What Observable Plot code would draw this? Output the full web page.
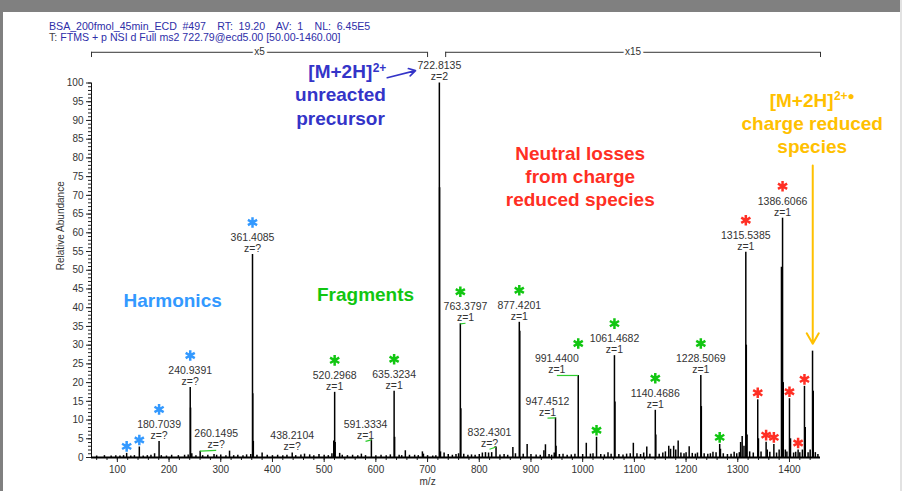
<!DOCTYPE html>
<html>
<head>
<meta charset="utf-8">
<script src="https://cdn.jsdelivr.net/npm/d3@7"></script>
<script src="https://cdn.jsdelivr.net/npm/@observablehq/plot@0.6"></script>
<style>
  body { margin: 0; background: #fff; }
  #wrap { position: relative; width: 902px; height: 491px; overflow: hidden; background: #fff;
          font-family: "Liberation Sans", Arial, sans-serif; }
  #chart { position: absolute; left: 0; top: 0; }
  .frameTop { position: absolute; left: 0; top: 0; width: 902px; height: 12px; background: #808080; }
  .frameLeft { position: absolute; left: 0; top: 0; width: 3px; height: 491px; background: #808080; }
  .frameRight { position: absolute; right: 0; top: 0; width: 2px; height: 491px; background: #e2e2e2; }
  .title { position: absolute; left: 49px; font-size: 10.6px; line-height: 11px; color: #2e2ea8; white-space: pre; }
  .title .t { color: #444; }
</style>
</head>
<body>
<div id="wrap">
  <div id="chart"></div>
  <div class="frameTop"></div>
  <div class="frameLeft"></div>
  <div class="frameRight"></div>
  <div class="title" style="top:21px;word-spacing:2.7px">BSA_200fmol_45min_ECD #497  RT: 19.20  AV: 1  NL: 6.45E5</div>
  <div class="title" style="top:32px"><span class="t">T:</span> FTMS + p NSI d Full ms2 722.79@ecd5.00 [50.00-1460.00]</div>
</div>
<script>
// ---- spectrum peaks (m/z, relative abundance) ----
const peakMz = [
  60, 75, 88, 97, 105, 112, 118, 126, 133, 142.5, 150, 158, 165, 172, 180.7039, 185, 195, 205, 218, 230, 237,
  240.9391, 241.6, 244, 252, 260.1495, 265, 275, 287, 292, 300, 310, 317, 325, 333, 343, 350, 358,
  361.4085, 361.9, 363, 370, 380, 390, 400, 410, 420, 428, 438.2104, 445, 455, 462, 472, 480, 490, 500, 508,
  515, 518.5, 520.2968, 521.3, 530, 535, 545, 555, 565, 572, 580, 591.3334, 600, 610, 620, 628,
  635.3234, 636.3, 645, 650, 657, 665, 675, 682, 690, 692, 700, 710, 716, 722.8135, 723.3, 725,
  732, 740, 748, 755, 760, 763.3797, 764.4, 770, 778, 785, 792, 800, 806, 812, 818, 824, 832.4301, 840, 848,
  855, 865, 870, 877.4201, 878.4, 885, 892.6, 900, 910, 918, 925, 928, 935, 940, 945, 947.4512, 948.5, 955,
  962, 970, 978, 985, 991.44, 1000, 1007, 1015, 1020, 1026.8, 1035, 1042, 1049, 1055, 1061.4682, 1062.5,
  1070, 1078, 1085, 1092, 1098, 1105, 1112, 1118, 1124, 1130, 1140.4686, 1141.5, 1148, 1155, 1160, 1166.5,
  1170, 1176, 1180, 1184.7, 1190, 1196, 1200, 1206, 1212, 1218, 1222, 1228.5069, 1229.5, 1235, 1242, 1247,
  1252, 1258, 1265, 1266.5, 1272, 1280, 1287, 1293, 1298, 1303, 1305.5, 1308.5, 1312, 1315.5385, 1316.5,
  1318, 1323, 1330, 1338.6, 1340, 1345, 1354.8, 1357, 1362, 1369.8, 1375, 1380, 1384.5, 1386.6066, 1388,
  1392, 1395, 1400, 1402, 1408, 1412, 1416.7, 1420, 1425, 1429, 1430.5, 1436, 1440, 1444.6, 1446, 1450, 1455
];
const peakAbundance = [
  0.4, 0.5, 0.4, 0.5, 0.4, 0.5, 1.1, 0.4, 0.5, 2.8, 0.4, 0.5, 0.6, 1.0, 4.3, 0.5, 0.4, 0.6, 0.5, 0.6, 0.7,
  18.7, 13.2, 1.0, 0.5, 1.7, 0.5, 0.6, 0.8, 0.6, 0.7, 0.5, 1.7, 0.5, 0.6, 0.5, 0.7, 0.8,
  54.2, 17.0, 4.3, 0.6, 1.2, 0.6, 0.5, 0.6, 0.5, 0.6, 1.2, 0.5, 0.7, 0.9, 0.7, 0.5, 0.8, 0.6, 0.5,
  1.0, 4.4, 17.4, 4.0, 1.1, 0.6, 0.5, 0.6, 0.5, 0.9, 0.5, 4.7, 0.5, 0.6, 0.5, 0.7,
  17.7, 5.4, 0.6, 0.5, 1.8, 0.6, 0.6, 0.5, 1.5, 0.9, 0.5, 0.4, 0.5, 100, 72, 1.5,
  1.2, 0.8, 0.6, 0.8, 1.0, 35.7, 13.0, 0.9, 0.6, 0.7, 0.6, 0.8, 1.2, 1.3, 1.2, 1.3, 2.8, 0.7, 0.8,
  0.6, 2.7, 1.0, 36.1, 33.7, 0.9, 3.5, 0.8, 0.7, 0.6, 1.8, 3.4, 0.8, 0.6, 1.2, 10.6, 3.0, 0.8,
  0.9, 0.6, 0.7, 0.9, 21.9, 0.8, 3.8, 0.9, 1.0, 5.4, 0.8, 0.7, 1.3, 0.9, 27.2, 14.8,
  0.8, 0.7, 0.9, 1.0, 3.8, 1.0, 0.8, 1.2, 2.8, 0.9, 12.6, 6.0, 0.9, 1.2, 1.5, 3.0,
  2.2, 3.0, 2.0, 4.4, 1.2, 1.0, 1.3, 2.9, 1.1, 0.9, 1.2, 21.9, 13.6, 1.0, 0.9, 1.0,
  1.4, 1.3, 3.5, 2.2, 1.0, 0.8, 0.9, 1.4, 1.0, 1.3, 4.0, 5.6, 3.0, 54.8, 30.0,
  6.0, 1.5, 1.2, 15.4, 5.0, 1.5, 4.1, 2.0, 1.4, 3.5, 1.2, 2.0, 50.8, 63.9, 20.0,
  2.0, 1.5, 15.7, 5.0, 1.2, 1.4, 2.0, 1.3, 2.0, 19.0, 8.0, 1.3, 2.0, 28.4, 17.7, 1.3, 0.8
];

// ---- labelled peaks ----
const labelMz        = [180.7039, 240.9391, 260.1495, 361.4085, 438.2104, 520.2968, 591.3334, 635.3234, 722.8135,
                        763.3797, 832.4301, 877.4201, 947.4512, 991.44, 1061.4682, 1140.4686, 1228.5069, 1315.5385, 1386.6066];
const labelAbundance = [4.3, 18.7, 1.7, 54.2, 1.2, 17.4, 4.7, 17.7, 100,
                        35.7, 2.8, 36.1, 10.6, 21.9, 27.2, 12.6, 21.9, 54.8, 63.9];
const labelCharge    = ["z=?", "z=?", "z=?", "z=?", "z=?", "z=1", "z=1", "z=1", "z=2",
                        "z=1", "z=?", "z=1", "z=1", "z=1", "z=1", "z=1", "z=1", "z=1", "z=1"];
// where a label was moved aside and joined to its peak by a leader (m/z, abundance)
const labelAtMz        = [null, null, 291.2, null, null, null, 580, null, null,
                          773.4, 819.8, null, 932, 950, null, null, null, null, null];
const labelAtAbundance = [null, null, 1.9, null, null, null, 4.3, null, null,
                          35.85, 2.2, null, 10.5, 21.9, null, null, null, null, null];

// ---- asterisk-marked peaks ----
const starMz        = [118, 142.5, 180.7039, 240.9391, 361.4085,
                       520.2968, 635.3234, 763.3797, 877.4201, 991.44, 1026.8, 1061.4682, 1140.4686, 1228.5069, 1265,
                       1315.5385, 1386.6066, 1338.6, 1354.8, 1369.8, 1400, 1416.7, 1429];
const starAbundance = [1.1, 2.8, 4.3, 18.7, 54.2,
                       17.4, 17.7, 35.7, 36.1, 21.9, 5.4, 27.2, 12.6, 21.9, 3.5,
                       54.8, 63.9, 15.4, 4.1, 3.5, 15.7, 2.0, 19.0];
const starGroup     = ["harmonic", "harmonic", "harmonic", "harmonic", "harmonic",
                       "fragment", "fragment", "fragment", "fragment", "fragment", "fragment", "fragment", "fragment", "fragment", "fragment",
                       "neutral", "neutral", "neutral", "neutral", "neutral", "neutral", "neutral", "neutral"];

// ---- magnification brackets ----
const bracketFrom = [50, 735];
const bracketTo   = [700, 1460];
const bracketText = ["x5", "x15"];

// ---- axis ticks ----
const xMajorTicks = d3.range(100, 1401, 100);
const xMinorTicks = d3.range(60, 1460, 20);
const yMajorTicks = d3.range(0, 101, 5);
const yMinorTicks = d3.range(0, 101, 1);

const groupColor = {harmonic: "#3399ff", fragment: "#11c611", neutral: "#ff2f24"};
const blue = "#3434c8", yellow = "#ffc000";

const peaks = peakMz.map((mz, i) => ({mz, h: peakAbundance[i]}));
const labels = labelMz.map((mz, i) => ({
  mz, h: labelAbundance[i], z: labelCharge[i],
  lx: labelAtMz[i] ?? mz, ly: labelAtAbundance[i] ?? labelAbundance[i],
  shifted: labelAtMz[i] != null
}));
const stars = starMz.map((mz, i) => ({
  mz, h: starAbundance[i], color: groupColor[starGroup[i]], labeled: labelMz.includes(mz)
}));
const brackets = bracketFrom.map((a, i) => ({from: a, to: bracketTo[i], mid: (a + bracketTo[i]) / 2, text: bracketText[i]}));

const ff = '"Liberation Sans", Arial, sans-serif';
const one = [0];
const bold = (text, x, y, fill, fontSize = 19, textAnchor = "middle") =>
  Plot.text(one, {x: () => x, y: () => y, text: () => text, fill, fontSize, fontWeight: "bold", textAnchor});

const plot = Plot.plot({
  width: 902, height: 491,
  marginLeft: 91, marginRight: 82, marginTop: 82.5, marginBottom: 34,
  x: {domain: [50, 1460]},
  y: {domain: [0, 100]},
  color: {type: "identity"},
  style: {fontFamily: ff, color: "#222", background: "transparent", overflow: "visible"},
  marks: [
    Plot.axisY({ticks: yMinorTicks, tickSize: 3, tickFormat: () => "", label: null}),
    Plot.axisY({ticks: yMajorTicks, tickSize: 5, tickPadding: 3, fontSize: 10, label: null, fill: "#333", tickFormat: d => String(d)}),
    Plot.axisX({ticks: xMinorTicks, tickSize: 3, tickFormat: () => "", label: null}),
    Plot.axisX({ticks: xMajorTicks, tickSize: 5, tickPadding: 3, fontSize: 10, label: null, fill: "#333", tickFormat: d => String(d)}),
    Plot.ruleX([50], {y1: 0, y2: 100, stroke: "#111"}),
    Plot.ruleX(peaks, {x: "mz", y1: 0, y2: "h", stroke: "#000", strokeWidth: 1.5}),
    Plot.ruleY([0], {stroke: "#000", strokeWidth: 2}),
    // axis titles
    Plot.text(["Relative Abundance"], {frameAnchor: "left", dx: -31, rotate: -90, text: d => d, fontSize: 10, fill: "#333"}),
    Plot.text(["m/z"], {x: 700, frameAnchor: "bottom", dy: 27, text: d => d, fontSize: 10, fill: "#333"}),
    // brackets
    Plot.ruleY(brackets, {x1: "from", x2: "to", y: 108.2, stroke: "#333", strokeWidth: 1}),
    Plot.ruleX(brackets, {x: "from", y1: 106.8, y2: 108.2, stroke: "#333", strokeWidth: 1}),
    Plot.ruleX(brackets, {x: "to", y1: 106.8, y2: 108.2, stroke: "#333", strokeWidth: 1}),
    Plot.text(brackets, {x: "mid", y: 108.2, text: "text", fontSize: 10, fill: "#333", stroke: "white", strokeWidth: 5, paintOrder: "stroke"}),
    // leaders and peak labels
    Plot.link(labels.filter(d => d.shifted), {x1: "mz", y1: "h", x2: "lx", y2: "ly", stroke: "#2ecc2e", strokeWidth: 1.2}),
    Plot.text(labels, {x: "lx", y: "ly", text: d => d.mz.toFixed(4), dy: -17, fontSize: 10.5, fill: "#333"}),
    Plot.text(labels, {x: "lx", y: "ly", text: "z", dy: -6, fontSize: 10.5, fill: "#333"}),
    // asterisks
    Plot.dot(stars.filter(d => d.labeled), {x: "mz", y: "h", dy: -32, symbol: "asterisk", r: 5, strokeWidth: 2.5, stroke: "color"}),
    Plot.dot(stars.filter(d => !d.labeled), {x: "mz", y: "h", dy: -7, symbol: "asterisk", r: 5, strokeWidth: 2.5, stroke: "color"}),
    // callouts
    bold("[M+2H]", 593, 102.9, blue, 19, "end"),
    bold("2+", 593.8, 104.0, blue, 12, "start"),
    bold("unreacted", 531.6, 96.7, blue),
    bold("precursor", 531.6, 90.3, blue),
    Plot.arrow(one, {x1: () => 622, y1: () => 101.4, x2: () => 676.7, y2: () => 103.3, stroke: blue, strokeWidth: 1.6, headLength: 7}),
    bold("Harmonics", 207, 41.9, "#3399ff"),
    bold("Fragments", 580, 43.4, "#11c611"),
    bold("Neutral losses", 995.3, 81.1, "#ff2f24"),
    bold("from charge", 995.3, 75.0, "#ff2f24"),
    bold("reduced species", 995.3, 68.8, "#ff2f24"),
    bold("[M+2H]", 1485.2, 95.3, yellow, 19, "end"),
    bold("2+\u25CF", 1486, 96.4, yellow, 12, "start"),
    bold("charge reduced", 1444, 89.1, yellow),
    bold("species", 1444, 82.9, yellow),
    Plot.arrow(one, {x1: () => 1445, y1: () => 78, x2: () => 1445, y2: () => 30.4, stroke: yellow, strokeWidth: 2, headLength: 9})
  ]
});
document.getElementById("chart").appendChild(plot);
</script>
</body>
</html>
